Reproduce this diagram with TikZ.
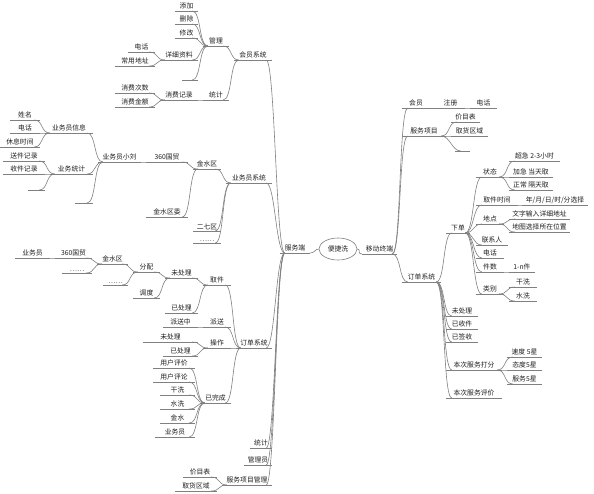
\documentclass[tikz,border=0pt]{standalone}
\usepackage{fontspec}
\newfontfamily\cjk{Noto Sans CJK SC}
\definecolor{lc}{gray}{0.5}
\definecolor{tc}{gray}{0.12}
\tikzset{
  ln/.style={draw=lc,line width=0.6pt},
  tp/.style={inner xsep=0pt,inner ysep=1.3pt,anchor=south,text=tc,minimum height=0pt,
    font=\cjk\fontsize{6.8}{8}\selectfont},
  hub/.style={ellipse,draw=lc,line width=0.6pt,minimum width=38pt,minimum height=22pt,inner sep=0pt,
    text=tc,font=\cjk\fontsize{6.8}{8}\selectfont}
}
\usetikzlibrary{shapes.geometric}
\newcommand\tp[5]{\node[tp,minimum width={(#3-#2)*1pt}] (#1) at ({(#2+#3)/2},#4) {#5};
  \draw[ln] (#1.south west) -- (#1.south east);}
\newcommand\conL[2]{\draw[ln] ([xshift=5pt]#1.south west) .. controls +(-9,0) and +(9,0) .. ([xshift=-6pt]#2.south east);}
\newcommand\conR[2]{\draw[ln] ([xshift=-5pt]#1.south east) .. controls +(9,0) and +(-9,0) .. ([xshift=6pt]#2.south west);}
\begin{document}
\begin{tikzpicture}[x=1pt,y=-1pt]
\useasboundingbox[fill=white] (0,0) rectangle (594,493);
% centre
\node[hub] (hub) at (338,249) {便捷洗};
\tp{fwd}{280}{310}{253}{服务端}
\tp{mob}{362}{397}{254}{移动终端}
\draw[ln] (fwd.south east) .. controls +(5,0) and +(-4,0) .. (hub.west);
\draw[ln] (hub.east) .. controls +(4,0) and +(-5,0) .. (mob.south west);
% ---------- left: server ----------
\tp{hy}{234}{272}{60}{会员系统}
\tp{ywy}{226}{272}{183}{业务员系统}
\tp{ddL}{236}{272}{348}{订单系统}
\tp{tj2}{250}{272}{448}{统计}
\tp{gly}{244}{272}{465}{管理员}
\tp{xmgl}{222}{272}{485}{服务项目管理}
\foreach \c in {hy,ywy,ddL,tj2,gly,xmgl}{\conL{fwd}{\c}}
% member system
\tp{gl}{203}{229}{46}{管理}
\tp{tj1}{203}{229}{100}{统计}
\conL{hy}{gl}\conL{hy}{tj1}
\tp{tjA}{175}{198}{11}{添加}
\tp{sc}{175}{198}{24}{删除}
\tp{xg}{175}{198}{38}{修改}
\tp{xxzl}{160}{198}{60}{详细资料}
\tp{bl1}{182}{198}{80}{}
\foreach \c in {tjA,sc,xg,xxzl,bl1}{\conL{gl}{\c}}
\tp{dh1}{128}{155}{52}{电话}
\tp{cydz}{115}{155}{66}{常用地址}
\conL{xxzl}{dh1}\conL{xxzl}{cydz}
\tp{xfjl}{160}{198}{100}{消费记录}
\conL{tj1}{xfjl}
\tp{xfcs}{115}{155}{93}{消费次数}
\tp{xfje}{115}{155}{107}{消费金额}
\conL{xfjl}{xfcs}\conL{xfjl}{xfje}
% salesman system
\tp{jsq1}{193}{221}{169}{金水区}
\tp{eqq}{193}{221}{231}{二七区}
\tp{dots1}{193}{221}{243}{……}
\foreach \c in {jsq1,eqq,dots1}{\conL{ywy}{\c}}
\tp{gm1}{146}{188}{162}{360国贸}
\tp{jsqw}{146}{188}{217}{金水区委}
\conL{jsq1}{gm1}\conL{jsq1}{jsqw}
\tp{xl}{98}{141}{162}{业务员小刘}
\conL{gm1}{xl}
\tp{ywxx}{45}{93}{133}{业务员信息}
\tp{ywtj}{50}{93}{174}{业务统计}
\tp{bl2}{75}{93}{203}{}
\foreach \c in {ywxx,ywtj,bl2}{\conL{xl}{\c}}
\tp{xm}{10}{40}{120}{姓名}
\tp{dh2}{10}{40}{133}{电话}
\tp{xxsj}{0}{40}{147}{休息时间}
\foreach \c in {xm,dh2,xxsj}{\conL{ywxx}{\c}}
\tp{sjjl}{3}{45}{161}{送件记录}
\tp{shjl}{3}{45}{174}{收件记录}
\tp{bl3}{28}{45}{190}{}
\foreach \c in {sjjl,shjl,bl3}{\conL{ywtj}{\c}}
% order system (server)
\tp{qj}{203}{231}{285}{取件}
\tp{ps}{203}{231}{327}{派送}
\tp{cz}{203}{231}{348}{操作}
\tp{ywc}{200}{231}{403}{已完成}
\foreach \c in {qj,ps,cz,ywc}{\conL{ddL}{\c}}
\tp{wcl1}{165}{198}{278}{未处理}
\tp{ycl1}{165}{198}{313}{已处理}
\conL{qj}{wcl1}\conL{qj}{ycl1}
\tp{fp}{133}{160}{272}{分配}
\tp{diao}{133}{160}{298}{调度}
\conL{wcl1}{fp}\conL{wcl1}{diao}
\tp{jsq2}{97}{128}{264}{金水区}
\tp{dots2}{103}{128}{285}{……}
\conL{fp}{jsq2}\conL{fp}{dots2}
\tp{gm2}{55}{92}{258}{360国贸}
\tp{dots3}{62}{92}{273}{……}
\conL{jsq2}{gm2}\conL{jsq2}{dots3}
\tp{ywy2}{15}{50}{258}{业务员}
\conL{gm2}{ywy2}
\tp{psz}{163}{198}{327}{派送中}
\conL{ps}{psz}
\tp{wcl2}{143}{198}{342}{未处理}
\tp{ycl2}{163}{198}{356}{已处理}
\conL{cz}{wcl2}\conL{cz}{ycl2}
\tp{yhpj}{153}{195}{368}{用户评价}
\tp{yhpl}{153}{195}{382}{用户评论}
\tp{gx1}{160}{195}{395}{干洗}
\tp{sx1}{160}{195}{409}{水洗}
\tp{js}{160}{195}{423}{金水}
\tp{ywy3}{155}{195}{437}{业务员}
\foreach \c in {yhpj,yhpl,gx1,sx1,js,ywy3}{\conL{ywc}{\c}}
\tp{jmb1}{183}{217}{477}{价目表}
\tp{qhqy1}{175}{217}{491}{取货区域}
\conL{xmgl}{jmb1}\conL{xmgl}{qhqy1}
% ---------- right: mobile ----------
\tp{hy2}{402}{430}{108}{会员}
\tp{fwxm}{402}{446}{136}{服务项目}
\tp{ddR}{402}{441}{282}{订单系统}
\foreach \c in {hy2,fwxm,ddR}{\conR{mob}{\c}}
\tp{zc}{436}{465}{108}{注册}
\tp{dh3}{470}{497}{108}{电话}
\conR{hy2}{zc}\conR{zc}{dh3}
\tp{jmb2}{451}{480}{122}{价目表}
\tp{qhqy2}{451}{488}{136}{取货区域}
\tp{bl4}{455}{470}{151}{}
\foreach \c in {jmb2,qhqy2,bl4}{\conR{fwxm}{\c}}
\tp{xd}{446}{470}{233}{下单}
\tp{wcl3}{446}{478}{316}{未处理}
\tp{ysj}{446}{478}{329}{已收件}
\tp{yqs}{446}{478}{342}{已签收}
\tp{dafen}{446}{502}{370}{本次服务打分}
\tp{pingjia}{446}{502}{398}{本次服务评价}
\foreach \c in {xd,wcl3,ysj,yqs,dafen,pingjia}{\conR{ddR}{\c}}
\tp{zt}{476}{504}{177}{状态}
\tp{qjsj}{476}{518}{205}{取件时间}
\tp{didian}{476}{504}{224}{地点}
\tp{lxr}{476}{508}{245}{联系人}
\tp{dh4}{476}{504}{258}{电话}
\tp{jsR}{476}{504}{272}{件数}
\tp{lb}{476}{504}{294}{类别}
\foreach \c in {zt,qjsj,didian,lxr,dh4,jsR,lb}{\conR{xd}{\c}}
\tp{cj}{509}{560}{161}{超急 2-3小时}
\tp{jj}{509}{553}{177}{加急 当天取}
\tp{zcg}{509}{553}{190}{正常 隔天取}
\foreach \c in {cj,jj,zcg}{\conR{zt}{\c}}
\tp{nyr}{522}{588}{205}{年/月/日/时/分选择}
\conR{qjsj}{nyr}
\tp{wz}{509}{570}{219}{文字输入详细地址}
\tp{dt}{509}{570}{232}{地图选择所在位置}
\conR{didian}{wz}\conR{didian}{dt}
\tp{onen}{509}{535}{272}{1-n件}
\conR{jsR}{onen}
\tp{gx2}{509}{537}{287}{干洗}
\tp{sx2}{509}{537}{301}{水洗}
\conR{lb}{gx2}\conR{lb}{sx2}
\tp{sd}{507}{542}{357}{速度 5星}
\tp{td}{507}{542}{370}{态度5星}
\tp{fw}{507}{542}{384}{服务5星}
\foreach \c in {sd,td,fw}{\conR{dafen}{\c}}
\end{tikzpicture}
\end{document}
